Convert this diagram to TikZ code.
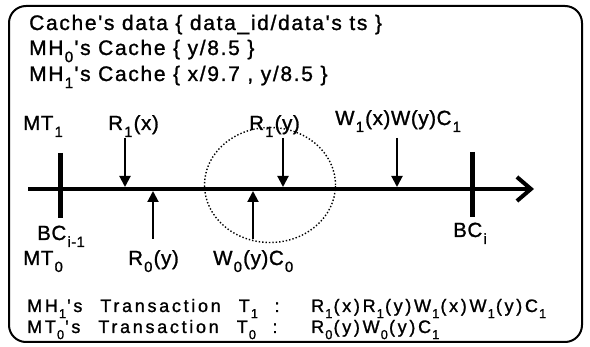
\documentclass[tikz,border=0pt]{standalone}
\usepackage{fontspec}
\usepackage{graphicx}
\setmainfont{Liberation Sans}[FakeBold=1.2, LetterSpace=3]
\newfontfamily\headfont{Liberation Sans}[FakeBold=1.2, LetterSpace=8]
\newfontfamily\botfont{Liberation Sans}[FakeBold=1.2, LetterSpace=15]
\usetikzlibrary{arrows.meta,shapes.geometric}
\newcommand\sbs[1]{\kern0.06em\raisebox{-0.34em}{\scalebox{0.72}{#1}}\kern0.06em}
\newcommand\wgap{\hspace{18pt}}
\begin{document}
\begin{tikzpicture}[x=1pt,y=-1pt,
  txt/.style={anchor=base west, inner sep=0pt, font=\headfont\fontsize{21}{21}\selectfont},
  lbl/.style={anchor=base west, inner sep=0pt, font=\fontsize{20.5}{20.5}\selectfont},
  bot/.style={anchor=base west, inner sep=0pt, font=\botfont\fontsize{18}{18}\selectfont},
  frame/.style={line width=2pt, rounded corners=17pt},
  timeline/.style={line width=4.5pt, -{Straight Barb[length=14pt,width=24pt,line width=4pt]}},
  bar/.style={line width=5pt},
  op/.style={line width=2pt, -{Triangle[length=11pt,width=11pt]}},
  zone/.style={draw, dotted, line width=1.4pt, ellipse, minimum width=131pt, minimum height=115pt, inner sep=0pt}
]
\useasboundingbox (0,0) rectangle (590,347);
\draw[frame] (9,6) rectangle (582,342);

% header text
\node[txt] (l1) at (29,30) {Cache's data \{ data\_id/data's ts \}};
\node[txt] (l2) at (29,55) {MH\sbs{0}'s Cache \{ y/8.5 \}};
\node[txt] (l3) at (29,81) {MH\sbs{1}'s Cache \{ x/9.7 , y/8.5 \}};

% timeline
\coordinate (ls) at (28,189);
\coordinate (le) at (534,189);
\draw[timeline] (ls) -- (le);

\coordinate (b1t) at (60,153);
\coordinate (b1b) at (60,218);
\draw[bar] (b1t) -- (b1b);
\coordinate (b2t) at (472,152);
\coordinate (b2b) at (472,217);
\draw[bar] (b2t) -- (b2b);

\node[zone] (circ) at (270,185) {};

% operations
\coordinate (a1s) at (125,138); \coordinate (a1e) at (125,187);
\draw[op] (a1s) -- (a1e);
\coordinate (a2s) at (283,138); \coordinate (a2e) at (283,187);
\draw[op] (a2s) -- (a2e);
\coordinate (a3s) at (397,138); \coordinate (a3e) at (397,187);
\draw[op] (a3s) -- (a3e);
\coordinate (a4s) at (153,239); \coordinate (a4e) at (153,191);
\draw[op] (a4s) -- (a4e);
\coordinate (a5s) at (253,239); \coordinate (a5e) at (253,191);
\draw[op] (a5s) -- (a5e);

% labels
\node[lbl] (mt1) at (23,130) {MT\sbs{1}};
\node[lbl] (r1x) at (108,130) {R\sbs{1}(x)};
\node[lbl] (r1y) at (249,130) {R\sbs{1}(y)};
\node[lbl] (w1) at (335,125) {W\sbs{1}(x)W(y)C\sbs{1}};
\node[lbl] (bci1) at (37,240) {BC\sbs{i-1}};
\node[lbl] (mt0) at (23,265) {MT\sbs{0}};
\node[lbl] (r0y) at (128,265) {R\sbs{0}(y)};
\node[lbl] (w0) at (213,265) {W\sbs{0}(y)C\sbs{0}};
\node[lbl] (bci) at (453,237) {BC\sbs{i}};

% bottom
\node[bot] (t1a) at (27,312) {MH\sbs{1}'s\wgap Transaction\wgap T\sbs{1}\ \ :};
\node[bot] (t1b) at (311,312) {R\sbs{1}(x)R\sbs{1}(y)W\sbs{1}(x)W\sbs{1}(y)C\sbs{1}};
\node[bot] (t0a) at (27,333) {MT\sbs{0}'s\wgap Transaction\wgap T\sbs{0}\ \ :};
\node[bot] (t0b) at (311,333) {R\sbs{0}(y)W\sbs{0}(y)C\sbs{1}};
\end{tikzpicture}
\end{document}
